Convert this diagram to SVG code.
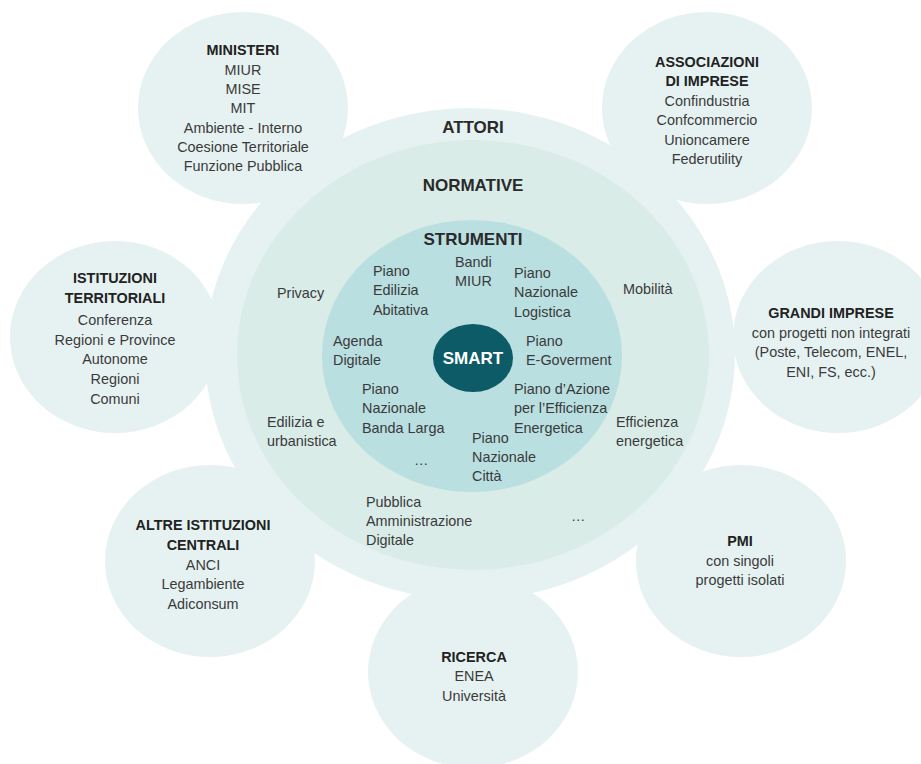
<svg xmlns="http://www.w3.org/2000/svg" width="921" height="764" viewBox="0 0 921 764">
<style>
.sat{fill:#e6f2f1}
.t{font-family:"Liberation Sans",Arial,sans-serif;font-size:14.4px;fill:#3a3a3a}
.c{text-anchor:middle}
.b{font-weight:bold;fill:#222}
.h{font-family:"Liberation Sans",Arial,sans-serif;font-size:17px;font-weight:bold;fill:#2a2a2a;text-anchor:middle}
</style>
<rect width="921" height="764" fill="#ffffff"/>
<g id="attori">
<ellipse cx="470" cy="354" rx="265" ry="246" fill="#e6f2f1"/>
<text class="h" x="473" y="133">ATTORI</text>
</g>
<g id="ministeri">
<ellipse class="sat" cx="243" cy="108" rx="105" ry="96"/>
<text class="t c" x="243" y="55"><tspan class="b">MINISTERI</tspan><tspan x="243" y="74.5">MIUR</tspan><tspan x="243" y="94">MISE</tspan><tspan x="243" y="113">MIT</tspan><tspan x="243" y="132.5">Ambiente - Interno</tspan><tspan x="243" y="151.5">Coesione Territoriale</tspan><tspan x="243" y="171">Funzione Pubblica</tspan></text>
</g>
<g id="associazioni">
<ellipse class="sat" cx="707" cy="108" rx="105" ry="96"/>
<text class="t c" x="707" y="67"><tspan class="b">ASSOCIAZIONI</tspan><tspan class="b" x="707" y="86">DI IMPRESE</tspan><tspan x="707" y="106">Confindustria</tspan><tspan x="707" y="125">Confcommercio</tspan><tspan x="707" y="145">Unioncamere</tspan><tspan x="707" y="164">Federutility</tspan></text>
</g>
<g id="istituzioni">
<ellipse class="sat" cx="115" cy="337" rx="105" ry="96"/>
<text class="t c" x="115" y="283"><tspan class="b">ISTITUZIONI</tspan><tspan class="b" x="115" y="302.5">TERRITORIALI</tspan><tspan x="115" y="325">Conferenza</tspan><tspan x="115" y="344.5">Regioni e Province</tspan><tspan x="115" y="364">Autonome</tspan><tspan x="115" y="384">Regioni</tspan><tspan x="115" y="403.5">Comuni</tspan></text>
</g>
<g id="grandi-imprese">
<ellipse class="sat" cx="838" cy="337" rx="105" ry="96"/>
<text class="t c" x="831" y="318"><tspan class="b">GRANDI IMPRESE</tspan><tspan x="831" y="337.5">con progetti non integrati</tspan><tspan x="831" y="357">(Poste, Telecom, ENEL,</tspan><tspan x="831" y="376.5">ENI, FS, ecc.)</tspan></text>
</g>
<g id="altre-istituzioni">
<ellipse class="sat" cx="210" cy="561" rx="105" ry="96"/>
<text class="t c" x="203" y="530"><tspan class="b">ALTRE ISTITUZIONI</tspan><tspan class="b" x="203" y="550">CENTRALI</tspan><tspan x="203" y="569.5">ANCI</tspan><tspan x="203" y="589">Legambiente</tspan><tspan x="203" y="608.5">Adiconsum</tspan></text>
</g>
<g id="pmi">
<ellipse class="sat" cx="741" cy="561" rx="105" ry="96"/>
<text class="t c" x="740" y="546"><tspan class="b">PMI</tspan><tspan x="740" y="565.5">con singoli</tspan><tspan x="740" y="585">progetti isolati</tspan></text>
</g>
<g id="ricerca">
<ellipse class="sat" cx="473" cy="672" rx="105" ry="96"/>
<text class="t c" x="474" y="662"><tspan class="b">RICERCA</tspan><tspan x="474" y="681">ENEA</tspan><tspan x="474" y="700.5">Università</tspan></text>
</g>
<g id="normative">
<ellipse cx="473" cy="355" rx="236" ry="215" fill="#d9ece8"/>
<text class="h" x="473" y="191">NORMATIVE</text>
<text class="t"><tspan x="277" y="298">Privacy</tspan></text>
<text class="t"><tspan x="267" y="427">Edilizia e</tspan><tspan x="267" y="446">urbanistica</tspan></text>
<text class="t"><tspan x="623" y="294">Mobilità</tspan></text>
<text class="t"><tspan x="616" y="427">Efficienza</tspan><tspan x="616" y="445.5">energetica</tspan></text>
<text class="t"><tspan x="366" y="507">Pubblica</tspan><tspan x="366" y="526">Amministrazione</tspan><tspan x="366" y="545">Digitale</tspan></text>
<text class="t"><tspan x="571" y="521">…</tspan></text>
</g>
<g id="strumenti">
<ellipse cx="472" cy="356" rx="150" ry="136" fill="#b9dfe1"/>
<text class="h" x="473" y="245">STRUMENTI</text>
<text class="t"><tspan x="455" y="267">Bandi</tspan><tspan x="455" y="286">MIUR</tspan></text>
<text class="t"><tspan x="373" y="276">Piano</tspan><tspan x="373" y="295">Edilizia</tspan><tspan x="373" y="314.5">Abitativa</tspan></text>
<text class="t"><tspan x="514" y="278">Piano</tspan><tspan x="514" y="297">Nazionale</tspan><tspan x="514" y="316.5">Logistica</tspan></text>
<text class="t"><tspan x="333" y="346">Agenda</tspan><tspan x="333" y="365">Digitale</tspan></text>
<text class="t"><tspan x="526" y="346">Piano</tspan><tspan x="526" y="364.5">E-Goverment</tspan></text>
<text class="t"><tspan x="514" y="394">Piano d’Azione</tspan><tspan x="514" y="413">per l’Efficienza</tspan><tspan x="514" y="432.5">Energetica</tspan></text>
<text class="t"><tspan x="362" y="394">Piano</tspan><tspan x="362" y="413">Nazionale</tspan><tspan x="362" y="432.5">Banda Larga</tspan></text>
<text class="t"><tspan x="472" y="443">Piano</tspan><tspan x="472" y="462">Nazionale</tspan><tspan x="472" y="481">Città</tspan></text>
<text class="t"><tspan x="414" y="465">…</tspan></text>
</g>
<g id="smart">
<ellipse cx="473" cy="358" rx="40" ry="34" fill="#0d5b66"/>
<text class="h" x="473" y="364" style="fill:#ffffff">SMART</text>
</g>
<g id="connectors"/>
</svg>
